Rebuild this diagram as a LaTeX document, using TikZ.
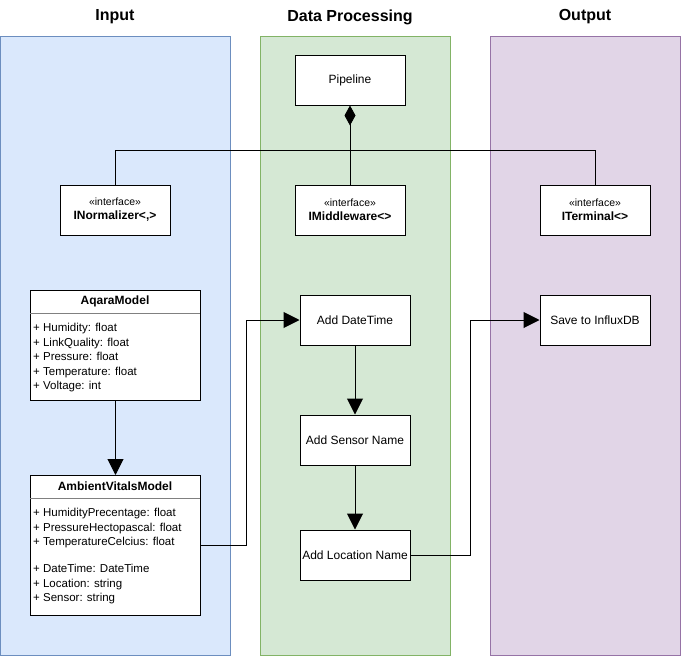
\documentclass[tikz,border=0pt]{standalone}
\usepackage{fontspec}
\setmainfont{Liberation Sans}
\usetikzlibrary{arrows.meta}
\definecolor{inFill}{HTML}{DAE8FC}\definecolor{inLine}{HTML}{6C8EBF}
\definecolor{dpFill}{HTML}{D5E8D4}\definecolor{dpLine}{HTML}{82B366}
\definecolor{outFill}{HTML}{E1D5E7}\definecolor{outLine}{HTML}{9673A6}
\begin{document}
\begin{tikzpicture}[x=1pt,y=-1pt,
  lane/.style={draw=#1Line,fill=#1Fill,line width=1pt,anchor=north west,minimum width=230pt,minimum height=619pt,inner sep=0pt},
  title/.style={font=\fontsize{16}{19}\selectfont\bfseries},
  box/.style={draw=black,fill=white,line width=1pt,minimum width=110pt,minimum height=50pt,inner sep=2pt,font=\fontsize{12}{14}\selectfont,align=center},
  cls/.style={draw=black,fill=white,line width=1pt,anchor=north west,minimum width=170pt,inner sep=0pt},
  fields/.style={anchor=north west,align=left,inner sep=0pt,font=\fontsize{11.5}{14.5}\selectfont},
  conn/.style={line width=1pt},
  arr/.style={line width=1pt,-{Triangle[length=16pt,width=16pt]}},
]
\useasboundingbox (0,0) rectangle (681,656);
% lanes
\node[lane=in,minimum width=230pt] (lanein) at (0,36) {};
\node[lane=dp,minimum width=190pt] (lanedp) at (260,36) {};
\node[lane=out,minimum width=190pt] (laneout) at (490,36) {};
\node[title] (tin) at (115,17) {Input};
\node[title] (tdp) at (350,17) {Data Processing};
\node[title] (tout) at (585,17) {Output};
% top
\node[box] (pipe) at (350,80) {Pipeline};
\node[box] (norm) at (115,210) {{\fontsize{10.5}{12}\selectfont«interface»}\\\textbf{INormalizer<,>}};
\node[box] (mid) at (350,210) {{\fontsize{10.5}{12}\selectfont«interface»}\\\textbf{IMiddleware<>}};
\node[box] (term) at (595,210) {{\fontsize{10.5}{12}\selectfont«interface»}\\\textbf{ITerminal<>}};
\draw[conn,{Diamond[length=20pt,width=11pt]}-] (pipe.south) -- (mid.north);
\draw[conn] (norm.north) -- ++(0,-34) -| (term.north);
% classes
\node[cls,minimum height=110pt] (aqara) at (30,290) {};
\node[font=\fontsize{12}{14}\selectfont\bfseries] (aqaraT) at (115,301.5) {AqaraModel};
\draw[line width=0.8pt,black!50] (30,313) -- (200,313);
\node[fields] (aqaraF) at (33,323) {+ Humidity: float\\+ LinkQuality: float\\+ Pressure: float\\+ Temperature: float\\+ Voltage: int};
\node[cls,minimum height=140pt] (amb) at (30,475) {};
\node[font=\fontsize{12}{14}\selectfont\bfseries] (ambT) at (115,486.5) {AmbientVitalsModel};
\draw[line width=0.8pt,black!50] (30,498) -- (200,498);
\node[fields] (ambF) at (33,508) {+ HumidityPrecentage: float\\+ PressureHectopascal: float\\+ TemperatureCelcius: float\\[12.5pt]+ DateTime: DateTime\\+ Location: string\\+ Sensor: string};
\draw[arr] (aqara.south) -- (amb.north);
% pipeline steps
\node[box] (adt) at (355,320) {Add DateTime};
\node[box] (asn) at (355,440) {Add Sensor Name};
\node[box] (aln) at (355,555) {Add Location Name};
\node[box] (save) at (595,320) {Save to InfluxDB};
\draw[arr] (adt.south) -- (asn.north);
\draw[arr] (asn.south) -- (aln.north);
\draw[arr] (amb.east) -- ++(45,0) |- (adt.west);
\draw[arr] (aln.east) -- ++(60,0) |- (save.west);
\end{tikzpicture}
\end{document}
